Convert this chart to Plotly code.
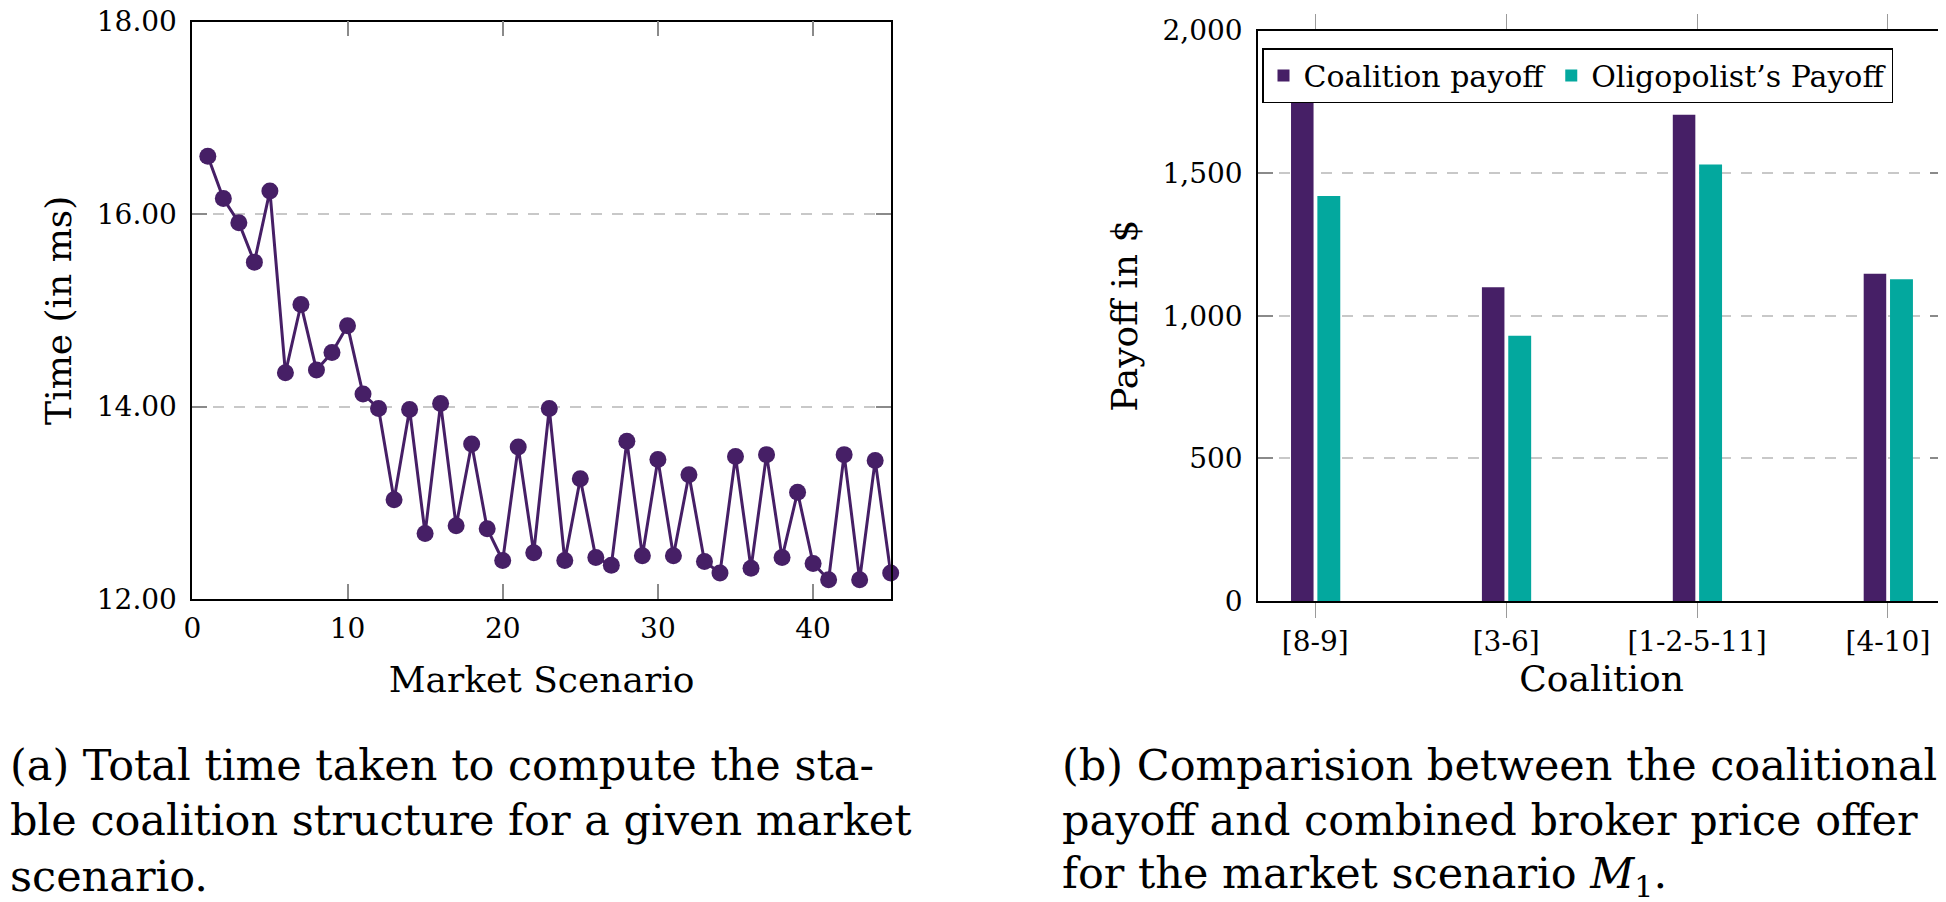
import plotly.graph_objects as go

# (a) time per market scenario
scenarios = list(range(1, 46))
time_ms = [
    16.60, 16.16, 15.91, 15.50, 16.24, 14.35, 15.06, 14.38, 14.56, 14.84,
    14.13, 13.98, 13.03, 13.97, 12.68, 14.03, 12.76, 13.61, 12.73, 12.40,
    13.58, 12.48, 13.98, 12.40, 13.25, 12.43, 12.35, 13.64, 12.45, 13.45,
    12.45, 13.29, 12.39, 12.27, 13.48, 12.32, 13.50, 12.43, 13.11, 12.37,
    12.20, 13.50, 12.20, 13.44, 12.27,
]
time_ticks = [12, 14, 16, 18]

# (b) payoffs per coalition
coalitions = ["[8-9]", "[3-6]", "[1-2-5-11]", "[4-10]"]
coalition_payoff = [1800, 1100, 1705, 1147]
oligopolist_payoff = [1420, 930, 1530, 1128]
payoff_ticks = [0, 500, 1000, 1500, 2000]

caption_a = [
    "(a) Total time taken to compute the sta-",
    "ble coalition structure for a given market",
    "scenario.",
]
caption_b = [
    "(b) Comparision between the coalitional",
    "payoff and combined broker price offer",
    "for the market scenario <i>M</i><sub>1</sub>.",
]

PURPLE = "#461f66"
TEAL = "#03a89e"
FONT = "DejaVu Serif"
W, H = 1946, 902


def px_x(x):
    return x / W


def px_y(y):
    return 1 - y / H


fig = go.Figure()

fig.add_trace(go.Scatter(
    x=scenarios, y=time_ms, mode="lines+markers",
    line=dict(color=PURPLE, width=3),
    marker=dict(color=PURPLE, size=17),
    cliponaxis=False, showlegend=False,
    xaxis="x", yaxis="y",
))

fig.add_trace(go.Bar(
    x=coalitions, y=coalition_payoff, name="Coalition payoff",
    marker=dict(color=PURPLE, line=dict(width=0)),
    width=0.118, offset=-0.127, xaxis="x2", yaxis="y2",
))
fig.add_trace(go.Bar(
    x=coalitions, y=oligopolist_payoff, name="Oligopolist\u2019s Payoff",
    marker=dict(color=TEAL, line=dict(width=0)),
    width=0.12, offset=0.011, xaxis="x2", yaxis="y2",
))

tick_font = dict(family=FONT, size=28, color="black")
title_font = dict(family=FONT, size=36, color="black")
axis_common = dict(
    showline=True, linecolor="black", linewidth=1.5, mirror="allticks",
    tickcolor="#8a8a8a", tickwidth=1.5, ticklen=15, tickfont=tick_font,
    zeroline=False, automargin=False, ticklabeloverflow="allow",
)
grid = dict(showgrid=True, gridcolor="#c8c8c8", gridwidth=1.5, griddash="11px,10px")

fig.update_layout(
    width=W, height=H,
    margin=dict(l=0, r=0, t=0, b=0),
    paper_bgcolor="white", plot_bgcolor="white",
    font=dict(family=FONT, color="black"),
    barmode="overlay",
    xaxis=dict(
        domain=[px_x(184.3), px_x(882.7)], anchor="y",
        range=[0, 45], dtick=10, ticks="inside", showgrid=False,
        title=dict(text="Market Scenario", font=title_font, standoff=22),
        ticklabelstandoff=4,
        **axis_common,
    ),
    yaxis=dict(
        domain=[px_y(591), px_y(13.5)], anchor="x",
        range=[12, 18], tickvals=time_ticks, tickformat=".2f", ticks="inside",
        title=dict(text="Time (in ms)", font=title_font, standoff=14),
        ticklabelstandoff=8,
        **grid, **axis_common,
    ),
    xaxis2=dict(
        domain=[px_x(1250), px_x(1937.2)], anchor="y2",
        type="category", range=[-0.3, 3.3], ticks="outside", showgrid=False,
        tickcolor="#9a9a9a", tickwidth=1,
        title=dict(text="Coalition", font=title_font, standoff=2),
        **{k: v for k, v in axis_common.items() if k not in ("tickcolor", "tickwidth")},
    ),
    yaxis2=dict(
        domain=[px_y(593), px_y(22.5)], anchor="x2",
        range=[0, 2000], tickvals=payoff_ticks, tickformat=",d", ticks="inside",
        title=dict(text="Payoff in $", font=title_font, standoff=14),
        ticklabelstandoff=8,
        **grid, **axis_common,
    ),
    legend=dict(
        orientation="h", x=px_x(1254), y=px_y(40), xanchor="left", yanchor="top",
        bgcolor="white", bordercolor="black", borderwidth=1.5,
        font=dict(family=FONT, size=30, color="black"),
        itemwidth=30, tracegroupgap=0,
    ),
)

line_centres = [757, 812, 868]
for lines, x0 in ((caption_a, 0), (caption_b, 1052)):
    for text, yc in zip(lines, line_centres):
        fig.add_annotation(
            text=text, x=px_x(x0), y=px_y(yc), xref="paper", yref="paper",
            xanchor="left", yanchor="middle", showarrow=False,
            font=dict(family=FONT, size=43, color="black"),
        )

fig.write_html("out.html")
